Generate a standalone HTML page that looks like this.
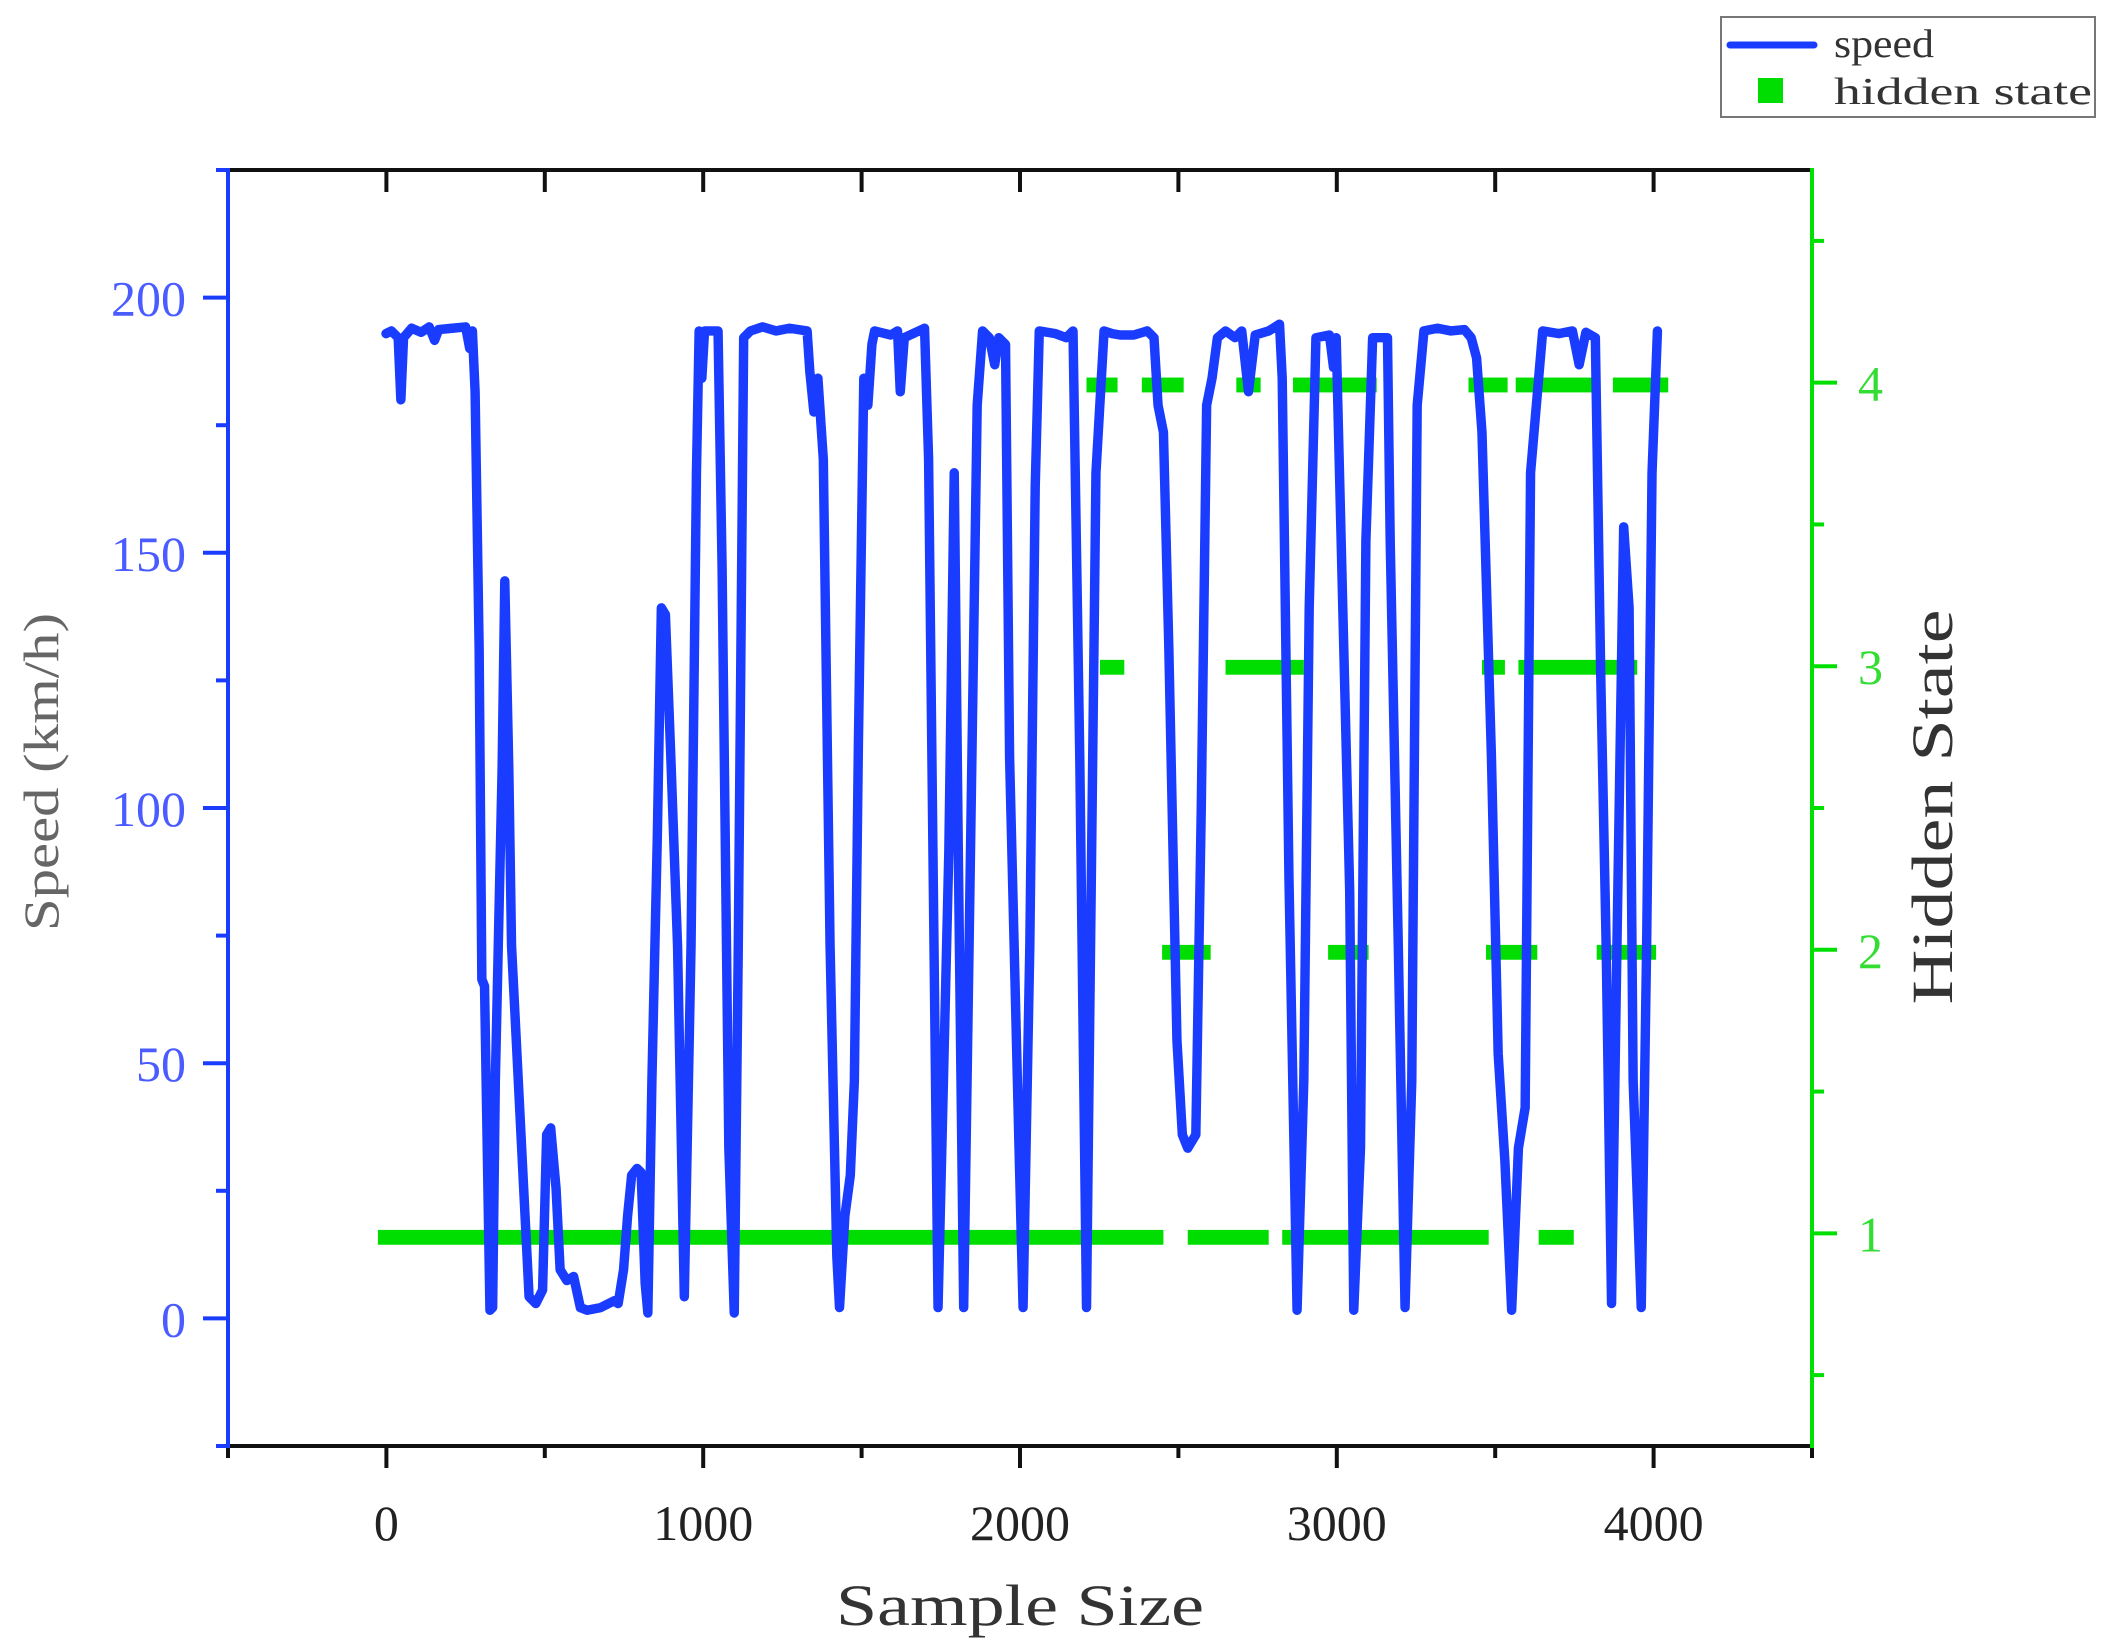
<!DOCTYPE html>
<html><head><meta charset="utf-8"><style>
html,body{margin:0;padding:0;background:#fff;}
svg{display:block;}
text{font-family:"Liberation Serif",serif;}
</style></head><body>
<svg width="2111" height="1648" viewBox="0 0 2111 1648" xmlns="http://www.w3.org/2000/svg">
<rect width="2111" height="1648" fill="#fff"/>
<g id="ticks"></g>
<g transform="scale(1.3497,1.3508)">
<g fill="#00dd00" id="bars"></g>
<polyline id="sp" fill="none" stroke="#1a3cff" stroke-width="7" stroke-linejoin="round" stroke-linecap="round"/>
</g>
<line x1="228" y1="170" x2="1814" y2="170" stroke="#111" stroke-width="4"/>
<line x1="226" y1="1446" x2="1814" y2="1446" stroke="#111" stroke-width="4"/>
<line x1="228" y1="168" x2="228" y2="1448" stroke="#1a3cff" stroke-width="4"/>
<line x1="1812" y1="168" x2="1812" y2="1448" stroke="#00e000" stroke-width="4"/>
<g id="labels"></g>
<text x="1020" y="1625" font-size="58" fill="#333" text-anchor="middle" textLength="368" lengthAdjust="spacingAndGlyphs">Sample Size</text>
<text transform="translate(58,772) rotate(-90)" font-size="50" fill="#666" text-anchor="middle" textLength="318" lengthAdjust="spacingAndGlyphs">Speed (km/h)</text>
<text transform="translate(1952,807) rotate(-90)" font-size="58" fill="#333" text-anchor="middle" textLength="395" lengthAdjust="spacingAndGlyphs">Hidden State</text>
<rect x="1721" y="17" width="374" height="100" fill="#fff" stroke="#777" stroke-width="2"/>
<line x1="1730" y1="45" x2="1814" y2="45" stroke="#1a3cff" stroke-width="7" stroke-linecap="round"/>
<rect x="1758" y="78" width="25" height="25" fill="#00dd00"/>
<text x="1834" y="57" font-size="40" fill="#333" textLength="100" lengthAdjust="spacingAndGlyphs">speed</text>
<text x="1834" y="104" font-size="38" fill="#333" textLength="258" lengthAdjust="spacingAndGlyphs">hidden state</text>
</svg>
<script>
var NS="http://www.w3.org/2000/svg";
function el(p,t,a,txt){var e=document.createElementNS(NS,t);for(var k in a)e.setAttribute(k,a[k]);if(txt!==undefined)e.textContent=txt;p.appendChild(e);return e;}
var T=document.getElementById('ticks'),L=document.getElementById('labels');
function X(v){return 228+(v+500)*1584/5000;}
function YL(v){return 1446-(v+25)*1276/250;}
function YR(v){return 1446-(v-0.25)*1276/4.5;}
for(var v=-500;v<=4500;v+=500){var x=X(v);var maj=(v%1000===0);
 el(T,'line',{x1:x,y1:1446,x2:x,y2:1446+(maj?22:12),stroke:'#111','stroke-width':4});
 el(T,'line',{x1:x,y1:170,x2:x,y2:192,stroke:'#111','stroke-width':4});
 if(maj&&v>=0&&v<=4000)el(L,'text',{x:x,y:1540,'font-size':50,fill:'#222','text-anchor':'middle'},String(v));}
for(var v=-25;v<=225;v+=25){var y=YL(v);var maj=(v%50===0);
 el(T,'line',{x1:228,y1:y,x2:228-(maj?25:12),y2:y,stroke:'#1a3cff','stroke-width':4});
 if(maj&&v>=0&&v<=200)el(L,'text',{x:186,y:y+18,'font-size':50,fill:'#4a5cff','text-anchor':'end'},String(v));}
for(var v=0.5;v<=4.5;v+=0.5){var y=YR(v);var maj=(v%1===0);
 el(T,'line',{x1:1812,y1:y,x2:1812+(maj?25:12),y2:y,stroke:'#00e000','stroke-width':4});
 if(maj)el(L,'text',{x:1858,y:y+18,'font-size':50,fill:'#33dd33'},String(v));}
var B=document.getElementById('bars');
var bars={916:[[280,862],[880,940],[950,1103],[1140,1166]],705:[[861,897],[984,1014],[1101,1139],[1183,1227]],494:[[815,833],[908,966],[1098,1115],[1125,1213]],285:[[805,828],[846,877],[916,934],[958,1020],[1088,1117],[1123,1183],[1195,1236]]};
for(var yy in bars)bars[yy].forEach(function(r){el(B,'rect',{x:r[0],y:+yy-5.5,width:r[1]-r[0],height:11});});
var pts=[286,247,290,245,295,250,297,296,299,250,305,243,312,246,318,242,322,252,325,244,335,243,345,242,348,258,350,245,352,290,355,480,357,725,359,730,363,970,365,968,367,800,372,570,374,430,377,570,379,700,384,800,392,960,397,965,402,955,405,840,408,835,412,880,415,940,420,948,425,945,430,968,435,970,445,968,455,963,458,965,462,940,465,900,468,870,472,865,475,868,478,950,480,972,483,800,487,620,490,450,493,455,497,560,502,700,507,960,512,700,516,350,518,245,520,280,522,245,532,245,535,420,540,850,544,972,547,700,551,250,556,245,565,242,575,245,585,243,598,245,600,275,603,305,606,280,610,340,615,700,620,930,622,968,626,900,630,870,633,800,636,550,640,280,643,300,646,255,648,245,660,248,665,245,667,290,670,250,685,243,688,340,692,700,695,968,699,800,703,630,707,350,710,630,714,968,718,700,724,300,728,245,733,250,737,270,740,250,745,255,748,560,755,850,758,968,763,700,767,360,770,245,782,247,790,250,795,245,800,560,805,968,808,700,812,350,818,245,824,247,830,248,840,248,850,245,855,250,858,300,862,320,866,480,872,770,876,840,880,850,886,840,890,600,894,300,898,280,902,250,908,245,915,250,920,245,925,290,930,248,940,245,948,240,950,280,955,650,961,970,966,800,970,450,975,250,985,248,988,272,990,250,1000,660,1003,970,1008,850,1012,400,1017,250,1028,250,1030,400,1036,700,1041,968,1046,800,1050,300,1055,245,1065,243,1075,245,1085,244,1090,250,1094,265,1098,320,1105,560,1110,780,1115,860,1120,970,1125,850,1130,820,1134,350,1143,245,1155,247,1165,245,1170,270,1175,246,1182,250,1186,500,1190,700,1194,965,1198,700,1203,390,1207,450,1210,800,1216,968,1220,700,1224,350,1228,245];
var s=[];for(var i=0;i<pts.length;i+=2)s.push(pts[i]+','+pts[i+1]);
document.getElementById('sp').setAttribute('points',s.join(' '));
</script>
</body></html>
